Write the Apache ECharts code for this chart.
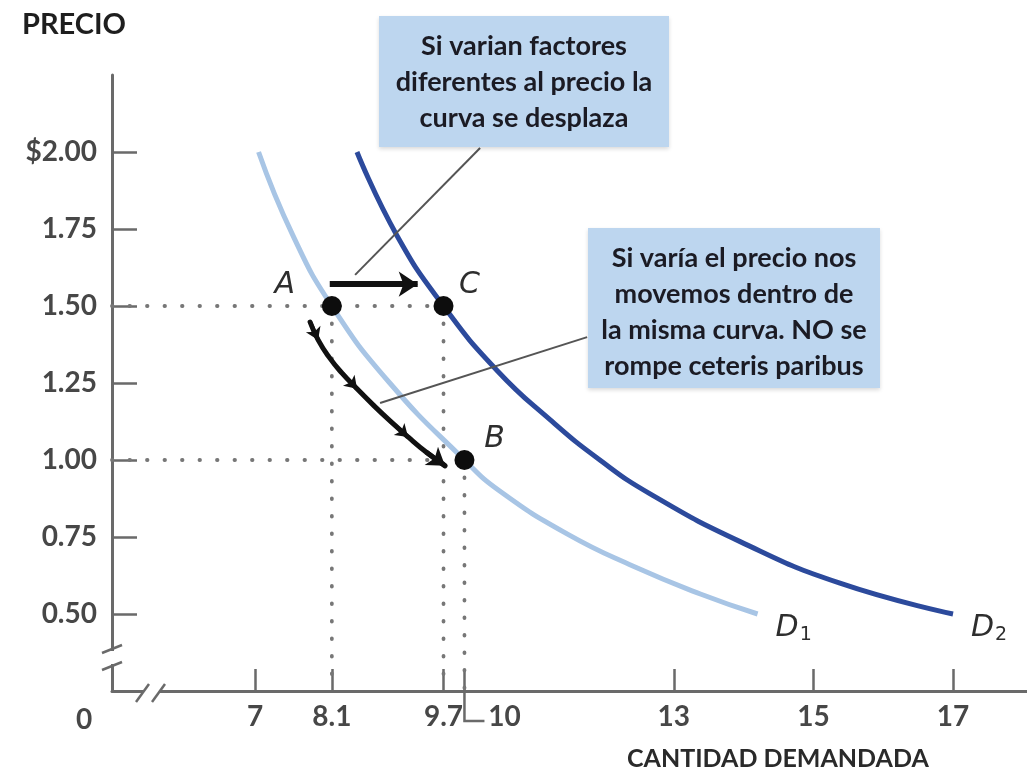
<!DOCTYPE html>
<html>
<head>
<meta charset="utf-8">
<script src="https://cdn.jsdelivr.net/npm/echarts@6/dist/echarts.min.js"></script>
<style>html,body{margin:0;padding:0;background:#fff;}#c{width:1027px;height:776px;}</style>
</head>
<body>
<div id="c"></div>
<script>
// ---- data ----
const xTicks = [7, 8.1, 9.7, 10, 13, 15, 17];
const yTicks = [0.5, 0.75, 1.0, 1.25, 1.5, 1.75, 2.0];
const d1 = [[7.05,2.0],[7.54,1.73],[8.1,1.5],[8.93,1.25],[10,1.0],[10.5,0.90],[11.47,0.76],[12.42,0.655],[13.38,0.565],[14.2,0.5]];
const d2 = [[8.46,2.0],[9.03,1.73],[9.7,1.5],[10.47,1.29],[11.23,1.13],[11.94,1.0],[12.66,0.89],[13.95,0.735],[15.38,0.60],[17.0,0.5]];
const points = [{name:'A', value:[8.1,1.5]},{name:'C', value:[9.7,1.5]},{name:'B', value:[10,1.0]}];
const shiftArrow = [[8.07,1.571],[9.33,1.571]];
const moveArrow = [[7.788,1.448],[7.903,1.390],[8.060,1.334],[8.246,1.282],[8.461,1.231],[8.691,1.179],[8.934,1.127],[9.192,1.075],[9.450,1.026],[9.722,0.981]];
const arrowHeadAt = [1, 4, 7, 9];
const connectors = [[[10.224,2.013],[8.433,1.601]],[[11.757,1.399],[8.791,1.185]]];
const xMin = 4.95, xMax = 18.06, yMin = 0.25, yMax = 2.25;

const FONT = 'Lato, "Open Sans", sans-serif';
const chart = echarts.init(document.getElementById('c'));
const dotted = {color:'#777', width:3.8, type:[0.5,17], cap:'round'};
const guide = (pts) => ({type:'line', data:pts, symbol:'none', silent:true, lineStyle:dotted, z:1});
const dLabel = (sub) => ({show:true, offset:[10,14], formatter:'{d|D}{s|' + sub + '}',
  rich:{d:{fontSize:30, fontStyle:'italic', color:'#2e2e2e', fontFamily:'"DejaVu Sans", sans-serif'},
        s:{fontSize:19, color:'#2e2e2e', fontFamily:'"DejaVu Sans", sans-serif', padding:[14,0,0,1]}}});

const option = {
  animation:false,
  grid:{left:112, right:0, top:75, bottom:85, containLabel:false},
  xAxis:{type:'value', min:xMin, max:xMax,
    axisLine:{onZero:false, lineStyle:{color:'#6a6a6a', width:3}},
    axisTick:{customValues:xTicks, inside:true, length:22, lineStyle:{color:'#6a6a6a', width:2.5}},
    splitLine:{show:false},
    axisLabel:{customValues:xTicks, margin:12, color:'#474747', fontSize:28, fontWeight:'bold', fontFamily:FONT,
      formatter:v => v===10 ? '{ten|10}' : String(v),
      rich:{ten:{padding:[0,0,0,80], color:'#474747', fontSize:28, fontWeight:'bold', fontFamily:FONT}}}
  },
  yAxis:{type:'value', min:yMin, max:yMax,
    axisLine:{onZero:false, lineStyle:{color:'#6a6a6a', width:3}},
    axisTick:{customValues:yTicks, inside:true, length:25, lineStyle:{color:'#6a6a6a', width:2.5}},
    splitLine:{show:false},
    axisLabel:{customValues:yTicks, margin:15, color:'#474747', fontSize:28, fontWeight:'bold', fontFamily:FONT,
      formatter:v => (Math.abs(v-2)<1e-9 ? '$' : '') + v.toFixed(2)}
  },
  series:[
    guide([[xMin,1.5],[9.7,1.5]]),
    guide([[xMin,1.0],[9.7,1.0]]),
    guide([[8.1,1.5],[8.1,yMin]]),
    guide([[9.7,1.5],[9.7,yMin]]),
    guide([[10,1.0],[10,yMin]]),
    {type:'line', data:d1, smooth:true, symbol:'none', lineStyle:{color:'#a8c5e5', width:5}, z:3, endLabel:dLabel('1')},
    {type:'line', data:d2, smooth:true, symbol:'none', lineStyle:{color:'#2c4a9c', width:5}, z:3, endLabel:dLabel('2')},
    {type:'lines', coordinateSystem:'cartesian2d', z:5, silent:true,
      data:connectors.map(c => ({coords:c})), lineStyle:{color:'#555', width:2, opacity:1}},
    {type:'lines', coordinateSystem:'cartesian2d', z:6, silent:true,
      symbol:['none','arrow'], symbolSize:19,
      data:[{coords:shiftArrow}], lineStyle:{color:'#111', width:6, opacity:1}},
    {type:'line', data:moveArrow, smooth:true, symbol:'none', z:6, silent:true,
      lineStyle:{color:'#111', width:5, cap:'round'}},
    {type:'lines', coordinateSystem:'cartesian2d', z:6, silent:true,
      symbol:['none','arrow'], symbolSize:12,
      data:arrowHeadAt.slice(0,3).map(i => ({coords:[moveArrow[i-1], moveArrow[i]]})),
      lineStyle:{color:'#111', width:4, opacity:1}},
    {type:'lines', coordinateSystem:'cartesian2d', z:6, silent:true,
      symbol:['none','arrow'], symbolSize:17,
      data:[{coords:[moveArrow[8], moveArrow[9]]}],
      lineStyle:{color:'#111', width:5, opacity:1}},
    {type:'scatter', data:points.map(p => ({name:p.name, value:p.value,
        label:{offset: p.name==='A' ? [-47,-21] : (p.name==='C' ? [26,-21] : [30,-21])}})),
      symbolSize:20, itemStyle:{color:'#0d0d0d', opacity:1}, z:8,
      label:{show:true, position:'inside', formatter:'{b}', color:'#2e2e2e', fontSize:30, fontStyle:'italic',
        fontFamily:'"DejaVu Sans", sans-serif'}}
  ],
  graphic:[
    {type:'text', left:22, top:10, style:{text:'PRECIO', font:'bold 29px ' + FONT, fill:'#1e1e1e'}},
    {type:'text', left:627, top:746, style:{text:'CANTIDAD DEMANDADA', font:'bold 25px ' + FONT, fill:'#2a2a2a'}},
    {type:'text', x:84, y:720, style:{text:'0', font:'bold 28px ' + FONT, fill:'#474747', align:'center', verticalAlign:'middle'}},
    // axis breaks
    {type:'rect', shape:{x:104, y:651, width:16, height:13}, style:{fill:'#fff'}, z:20},
    {type:'line', shape:{x1:102, y1:653, x2:122, y2:645}, style:{stroke:'#6a6a6a', lineWidth:2.5}, z:21},
    {type:'line', shape:{x1:102, y1:670, x2:122, y2:662}, style:{stroke:'#6a6a6a', lineWidth:2.5}, z:21},
    {type:'rect', shape:{x:144, y:684, width:15, height:16}, style:{fill:'#fff'}, z:20},
    {type:'line', shape:{x1:136, y1:702, x2:149, y2:684}, style:{stroke:'#6a6a6a', lineWidth:2.5}, z:21},
    {type:'line', shape:{x1:152, y1:702, x2:165, y2:684}, style:{stroke:'#6a6a6a', lineWidth:2.5}, z:21},
    // callout boxes
    {type:'rect', shape:{x:379, y:16, width:290, height:131}, style:{fill:'#bdd6ef', shadowBlur:4, shadowColor:'rgba(0,0,0,0.15)', shadowOffsetY:2}, z:10},
    {type:'text', x:524, y:82, z:11, style:{text:'Si varian factores\ndiferentes al precio la\ncurva se desplaza', align:'center', verticalAlign:'middle', lineHeight:36, font:'bold 27px ' + FONT, fill:'#1b1b24'}},
    {type:'rect', shape:{x:588, y:228, width:292, height:160}, style:{fill:'#bdd6ef', shadowBlur:4, shadowColor:'rgba(0,0,0,0.15)', shadowOffsetY:2}, z:10},
    {type:'text', x:734, y:312, z:11, style:{text:'Si varía el precio nos\nmovemos dentro de\nla misma curva. NO se\nrompe ceteris paribus', align:'center', verticalAlign:'middle', lineHeight:36, font:'bold 27px ' + FONT, fill:'#1b1b24'}}
  ]
};
chart.setOption(option);
// "10" tick bracket, anchored through the axis scale
const p10 = chart.convertToPixel({gridIndex:0}, [10, yMin]);
chart.setOption({graphic: option.graphic.concat([
  {type:'polyline', shape:{points:[[p10[0], p10[1]], [p10[0], p10[1]+30], [p10[0]+20, p10[1]+30]]}, style:{stroke:'#6a6a6a', lineWidth:2.5, fill:null}, z:21}
])});
</script>
</body>
</html>
